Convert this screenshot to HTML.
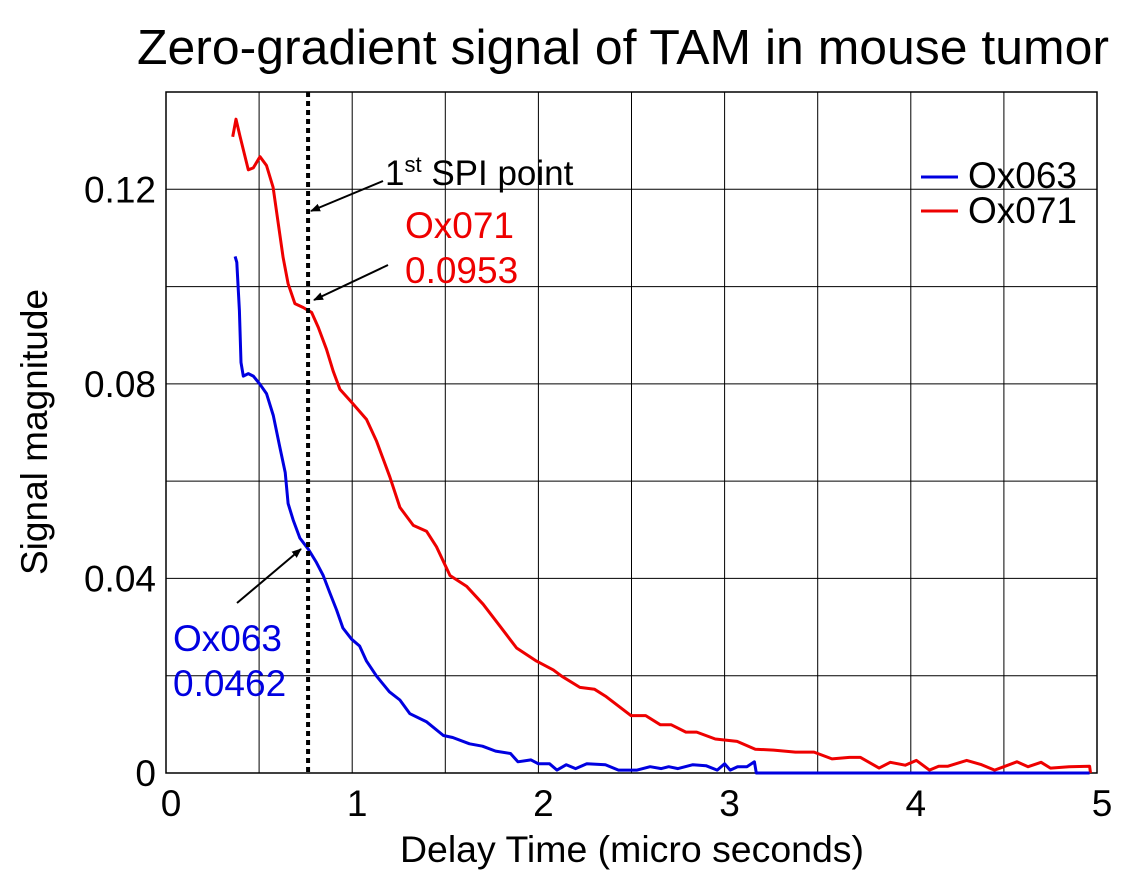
<!DOCTYPE html>
<html><head><meta charset="utf-8"><style>
body{margin:0;background:#fff;}
svg{display:block;font-family:"Liberation Sans",Arial,sans-serif;}
</style></head><body>
<svg id="chart" width="1142" height="893">
<text x="623" y="64" font-size="49" text-anchor="middle" textLength="972" lengthAdjust="spacingAndGlyphs">Zero-gradient signal of TAM in mouse tumor</text>
<g id="grid"></g>
<g id="axes"></g>
<g id="series"></g>
<text x="632" y="862" font-size="37" text-anchor="middle" textLength="464" lengthAdjust="spacingAndGlyphs">Delay Time (micro seconds)</text>
<text transform="translate(47,432) rotate(-90)" font-size="37" text-anchor="middle" textLength="286" lengthAdjust="spacingAndGlyphs">Signal magnitude</text>
<g>
<line x1="921" y1="177" x2="958" y2="177" stroke="#0000e0" stroke-width="3"/>
<text x="968" y="188" font-size="37">Ox063</text>
<line x1="921" y1="211" x2="958" y2="211" stroke="#ee0000" stroke-width="3"/>
<text x="968" y="223" font-size="37">Ox071</text>
</g>
<g>
<defs><marker id="ah" markerWidth="10" markerHeight="8" refX="9" refY="4" orient="auto" markerUnits="userSpaceOnUse"><path d="M0,0 L10,4 L0,8 z" fill="#000"/></marker></defs>
<text x="385" y="185" font-size="35">1<tspan font-size="22" dy="-13">st</tspan><tspan dy="13"> SPI point</tspan></text>
<line x1="383" y1="181" x2="311" y2="211" stroke="#000" stroke-width="2" marker-end="url(#ah)"/>
<text x="405" y="238" font-size="37" fill="#ee0000">Ox071</text>
<text x="405" y="283" font-size="37" fill="#ee0000">0.0953</text>
<line x1="388" y1="265" x2="314" y2="300" stroke="#000" stroke-width="2" marker-end="url(#ah)"/>
<text x="173" y="651" font-size="37" fill="#0000e0">Ox063</text>
<text x="173" y="696" font-size="37" fill="#0000e0">0.0462</text>
<line x1="237" y1="603" x2="301" y2="549" stroke="#000" stroke-width="2" marker-end="url(#ah)"/>
</g>
</svg>
<script>
const xTicks=[0,1,2,3,4,5];
const yTicks=[0,0.04,0.08,0.12];
const yTickLabels=["0","0.04","0.08","0.12"];
const spiTime=[0.763];
const redT=[0.358,0.376,0.397,0.442,0.469,0.505,0.54,0.575,0.602,0.629,0.656,0.692,0.737,0.782,0.818,0.862,0.898,0.934,0.997,1.077,1.131,1.202,1.256,1.328,1.399,1.453,1.525,1.614,1.703,1.793,1.883,1.99,2.08,2.125,2.223,2.302,2.36,2.497,2.576,2.655,2.714,2.792,2.85,2.95,3.067,3.165,3.263,3.38,3.48,3.577,3.67,3.73,3.83,3.89,3.97,4.03,4.1,4.15,4.2,4.3,4.38,4.45,4.5,4.57,4.63,4.7,4.75,4.85,4.96,4.965];
const redV=[0.1308,0.1344,0.131,0.124,0.1244,0.1267,0.1249,0.1204,0.1132,0.106,0.1006,0.0965,0.0957,0.0947,0.0916,0.0871,0.0826,0.0789,0.0762,0.0727,0.0682,0.0609,0.0546,0.0509,0.0497,0.0465,0.0406,0.0384,0.0347,0.0302,0.0257,0.023,0.0212,0.0199,0.0176,0.0172,0.0158,0.0118,0.0118,0.0099,0.0099,0.0084,0.0084,0.007,0.0065,0.0049,0.0047,0.0043,0.0043,0.0029,0.0032,0.0032,0.001,0.0022,0.0016,0.0026,0.0006,0.0014,0.0014,0.0026,0.0017,0.0006,0.0013,0.0023,0.0013,0.0022,0.001,0.0013,0.0014,0];
const blueT=[0.371,0.38,0.394,0.403,0.415,0.442,0.469,0.505,0.54,0.576,0.61,0.64,0.656,0.683,0.719,0.764,0.808,0.844,0.88,0.916,0.95,0.997,1.04,1.077,1.131,1.2,1.256,1.31,1.4,1.49,1.54,1.63,1.7,1.77,1.85,1.89,1.96,2.0,2.06,2.1,2.15,2.2,2.26,2.36,2.43,2.53,2.6,2.66,2.7,2.75,2.83,2.9,2.96,3.0,3.03,3.07,3.12,3.16,3.17,4.96];
const blueV=[0.1062,0.105,0.0951,0.0844,0.0816,0.0821,0.0816,0.0799,0.078,0.0735,0.0672,0.0618,0.0554,0.052,0.0483,0.046,0.0433,0.0406,0.037,0.0335,0.0298,0.0275,0.0261,0.023,0.0199,0.0167,0.015,0.0122,0.0105,0.0077,0.0073,0.006,0.0055,0.0045,0.004,0.0023,0.0027,0.0019,0.0019,0.0006,0.0017,0.0009,0.0019,0.0017,0.0006,0.0006,0.0013,0.0009,0.0013,0.0009,0.0017,0.0015,0.0006,0.0019,0.0006,0.0013,0.0013,0.0023,0,0];

const X0=166,X1=1097,Y0=773,Y1=92,XMAX=5,YMAX=0.14;
const sx=t=>X0+(X1-X0)*t/XMAX;
const sy=v=>Y0-(Y0-Y1)*v/YMAX;
const NS="http://www.w3.org/2000/svg";
function mk(tag,attrs,parent){const e=document.createElementNS(NS,tag);for(const k in attrs)e.setAttribute(k,attrs[k]);parent.appendChild(e);return e;}
const grid=document.getElementById('grid'),axes=document.getElementById('axes'),series=document.getElementById('series');
for(let i=1;i<10;i++){const t=i*0.5;const l=mk('line',{x1:sx(t),x2:sx(t),y1:Y1,y2:Y0,stroke:'#000','stroke-width':1},grid);

}
for(let i=1;i<7;i++){const v=i*0.02;const l=mk('line',{x1:X0,x2:X1,y1:sy(v),y2:sy(v),stroke:'#000','stroke-width':1},grid);

}
const fr=mk('rect',{x:X0,y:Y1,width:X1-X0,height:Y0-Y1,fill:'none',stroke:'#000','stroke-width':1.5},axes);


xTicks.forEach(t=>{const e=mk('text',{x:sx(t)+5,y:816,'font-size':37,'text-anchor':'middle'},axes);e.textContent=t;

});
yTicks.forEach((v,i)=>{const e=mk('text',{x:156,y:sy(v)+13,'font-size':37,'text-anchor':'end'},axes);e.textContent=yTickLabels[i];

});
function path(T,V,color,name){const d=T.map((t,i)=>(i?'L':'M')+sx(t).toFixed(1)+','+sy(V[i]).toFixed(1)).join('');
const p=mk('path',{d:d,fill:'none',stroke:color,'stroke-width':3,'stroke-linejoin':'round'},series);

}
path(redT,redV,'#ee0000','series-ox071');
path(blueT,blueV,'#0000e0','series-ox063');
const sp=mk('line',{x1:sx(spiTime[0]),x2:sx(spiTime[0]),y1:Y1,y2:Y0,stroke:'#000','stroke-width':4,'stroke-dasharray':'5,4'},series);


</script>
</body></html>
